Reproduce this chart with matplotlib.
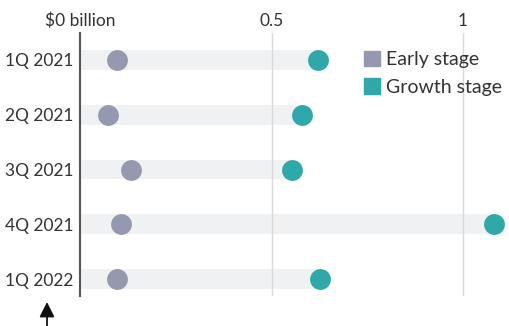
import matplotlib
matplotlib.use("Agg")
import matplotlib.pyplot as plt
from matplotlib.patches import Patch, FancyArrowPatch

# Quarterly venture funding, billions of dollars
quarters = ["1Q 2021", "2Q 2021", "3Q 2021", "4Q 2021", "1Q 2022"]
early_stage = [0.096, 0.074, 0.132, 0.106, 0.096]
growth_stage = [0.622, 0.580, 0.553, 1.080, 0.627]
tick_values = [0, 0.5, 1]
tick_labels = ["$0 billion", "0.5", "1"]

early_color = "#9599b0"
growth_color = "#2ea8a9"
band_color = "#f0f1f3"
grid_color = "#d9d9d9"
text_color = "#333333"

plt.rcParams["font.family"] = ["Lato", "DejaVu Sans"]

W, H = 509, 326
fig = plt.figure(figsize=(W / 100, H / 100), dpi=100)
ax = fig.add_axes([80 / W, 1 - 296 / H, (W - 80) / W, 263 / H])

ax.set_xlim(0, (W - 80) / 383)
ax.set_ylim(4.31, -0.493)

for x in tick_values[1:]:
    ax.axvline(x, color=grid_color, lw=1, zorder=2)

ypos = list(range(len(quarters)))
ax.barh(ypos, growth_stage, height=0.36, color=band_color, zorder=1, left=0)
ax.scatter(early_stage, ypos, s=225, color=early_color, zorder=3, linewidths=0)
ax.scatter(growth_stage, ypos, s=225, color=growth_color, zorder=3, linewidths=0)

for s in ["top", "right", "bottom"]:
    ax.spines[s].set_visible(False)
ax.spines["left"].set_color("#555555")
ax.spines["left"].set_linewidth(1.5)

ax.xaxis.tick_top()
ax.set_xticks(tick_values)
ax.set_xticklabels(tick_labels)
ax.tick_params(axis="x", length=0, pad=3, labelsize=12.5, colors=text_color)
ax.set_yticks(ypos)
ax.set_yticklabels(quarters)
ax.tick_params(axis="y", length=0, pad=5, labelsize=12.5, colors=text_color)

# Legend with square swatches
handles = [Patch(color=early_color, label="Early stage"),
           Patch(color=growth_color, label="Growth stage")]
ax.legend(handles=handles, loc="upper left",
          bbox_to_anchor=((364 - 80) / (W - 80), (296 - 51) / 263),
          frameon=False, fontsize=14, handlelength=0.82, handleheight=0.82,
          handletextpad=0.3, labelspacing=0.52, borderaxespad=0, borderpad=0,
          labelcolor=text_color)

# Upward arrow below the axis
fig.add_artist(FancyArrowPatch(
    (47 / W, 0.0), (47 / W, 1 - 302 / H), transform=fig.transFigure,
    arrowstyle="-|>,head_length=9,head_width=4.5", mutation_scale=1,
    color="#111111", lw=1.3, shrinkA=0, shrinkB=0))

fig.savefig("out.png", dpi=100)
